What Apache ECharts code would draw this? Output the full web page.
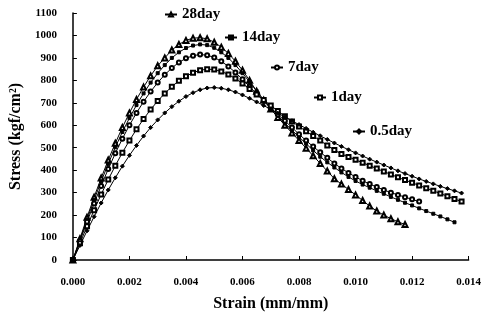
<!DOCTYPE html>
<html><head><meta charset="utf-8">
<script src="https://cdn.jsdelivr.net/npm/echarts@6/dist/echarts.min.js"></script>
<style>html,body{margin:0;padding:0;background:#fff;}#c{width:484px;height:325px;}</style>
</head><body><div id="c"></div>
<script>
const strain = [0,0.00025,0.0005,0.00075,0.001,0.00125,0.0015,0.00175,0.002,0.00225,0.0025,0.00275,0.003,0.00325,0.0035,0.00375,0.004,0.00425,0.0045,0.00475,0.005,0.00525,0.0055,0.00575,0.006,0.00625,0.0065,0.00675,0.007,0.00725,0.0075,0.00775,0.008,0.00825,0.0085,0.00875,0.009,0.00925,0.0095,0.00975,0.01,0.01025,0.0105,0.01075,0.011,0.01125,0.0115,0.01175,0.012,0.01225,0.0125,0.01275,0.013,0.01325,0.0135,0.01375];
const day28 = [0,95,190,280,365,445,520,590,655,715,770,820,865,900,935,960,978,988,990,985,970,948,920,885,845,800,752,712,672,635,600,566,532,498,464,430,396,362,338,314,290,265,240,218,200,184,170,158];
const day14 = [0,90,180,268,350,428,502,570,632,690,742,790,832,868,900,925,944,955,960,957,945,925,900,868,832,793,752,713,677,643,610,578,548,518,488,460,435,412,390,370,352,336,322,308,295,281,268,255,243,230,218,206,194,181,168];
const day7 = [0,85,170,252,330,405,475,540,600,655,705,750,790,825,855,880,898,910,915,912,902,885,862,835,805,772,740,708,677,648,620,590,560,532,505,480,455,430,408,388,370,353,338,325,312,300,290,280,270,260];
const day1 = [0,75,150,222,292,358,420,478,532,582,628,670,708,742,772,798,818,834,845,850,848,840,826,808,786,762,737,712,688,664,640,617,595,573,552,532,510,490,472,459,446,433,420,407,394,381,368,356,344,332,320,308,296,284,272,260];
const day05 = [0,65,130,193,254,312,366,418,466,510,552,590,624,655,683,707,728,745,758,766,768,765,758,748,735,720,704,688,671,654,637,620,603,586,569,553,537,521,506,491,477,463,449,436,423,410,397,385,373,361,350,339,328,318,308,298];
const seriesNames = ['28day','14day','7day','1day','0.5day'];
const xTicks = [0,0.002,0.004,0.006,0.008,0.010,0.012,0.014];

const font = 'Liberation Serif';
const mk = (vals) => vals.map((v,i) => [strain[i], v]);
const defs = [
  {name:'28day', vals:day28, symbol:'emptyTriangle', size:5},
  {name:'14day', vals:day14, symbol:'rect', size:3},
  {name:'7day', vals:day7, symbol:'emptyCircle', size:4},
  {name:'1day', vals:day1, symbol:'emptyRect', size:4},
  {name:'0.5day', vals:day05, symbol:'diamond', size:4}
];
const legendPos = [[164,7],[224,30],[270,60],[313,90],[352,124]];
const chart = echarts.init(document.getElementById('c'));
chart.setOption({
  animation:false,
  backgroundColor:'#fff',
  grid:{left:72, right:14, top:13, bottom:65},
  legend: seriesNames.map((n,i)=>({
    data:[n], left:legendPos[i][0], top:legendPos[i][1], itemWidth:12, itemHeight:5, itemGap:4,
    textStyle:{fontFamily:font, fontWeight:'bold', fontSize:15, color:'#000'}, padding:0
  })),
  xAxis:{type:'value', min:0, max:0.014, interval:0.002,
    name:'Strain (mm/mm)', nameLocation:'middle', nameGap:36,
    nameTextStyle:{fontFamily:font, fontWeight:'bold', fontSize:16, color:'#000'},
    axisLine:{lineStyle:{color:'#000', width:1.5}},
    axisTick:{inside:true, length:4, lineStyle:{color:'#000'}},
    axisLabel:{fontFamily:font, fontWeight:'bold', fontSize:11, color:'#000', margin:17, formatter:v=>v.toFixed(3)},
    splitLine:{show:false}},
  yAxis:{type:'value', min:0, max:1100, interval:100,
    name:'Stress (kgf/cm²)', nameLocation:'middle', nameGap:42,
    nameTextStyle:{fontFamily:font, fontWeight:'bold', fontSize:16, color:'#000'},
    axisLine:{show:true, lineStyle:{color:'#000', width:1.5}},
    axisTick:{show:true, inside:true, length:4, lineStyle:{color:'#000'}},
    axisLabel:{fontFamily:font, fontWeight:'bold', fontSize:11, color:'#000', margin:16, formatter:v=>String(v)},
    splitLine:{show:false}},
  series: defs.map(d=>({
    name:d.name, type:'line', data:mk(d.vals), symbol:d.symbol, symbolSize:d.size, showSymbol:true,
    lineStyle:{color:'#000', width:1}, itemStyle:{color:'#000', borderColor:'#000', borderWidth:1}
  }))
});
</script></body></html>
